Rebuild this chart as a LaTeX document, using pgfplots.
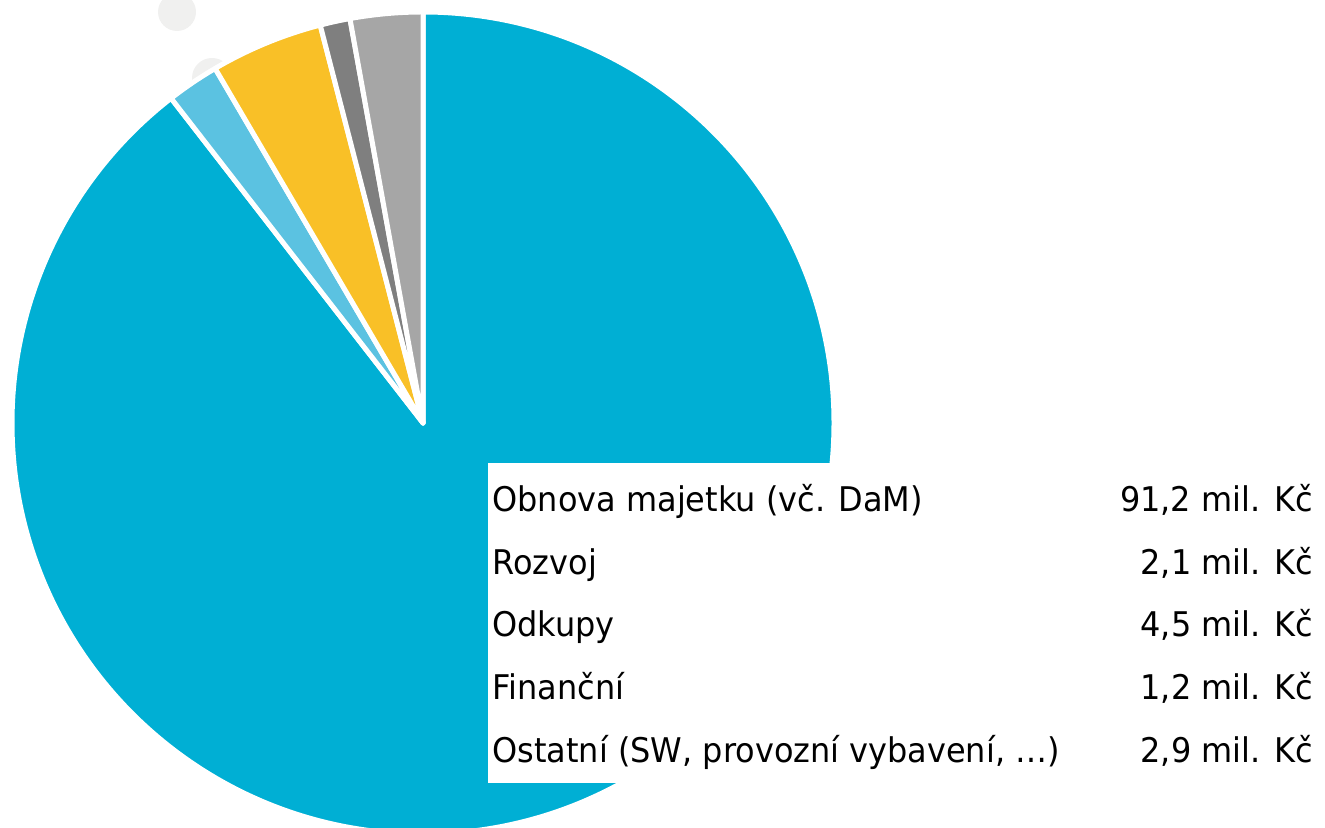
\documentclass[border=0pt]{standalone}
\usepackage{fontspec}
\setmainfont[FakeStretch=0.94]{DejaVu Sans}
\usepackage{pgfplots}
\usepackage{pgfplotstable}
\pgfplotsset{compat=1.18}

\definecolor{cObnova}{HTML}{00AFD4}
\definecolor{cRozvoj}{HTML}{5BC2E1}
\definecolor{cOdkupy}{HTML}{F9C027}
\definecolor{cFin}{HTML}{7F7F7F}
\definecolor{cOst}{HTML}{A6A6A6}
\definecolor{cDeco}{HTML}{F0F0EF}

% values in mil. Kc
\pgfplotstableread{
value
91.2
2.1
4.5
1.2
2.9
}\piedata

\pgfplotstablegetelem{0}{value}\of\piedata \let\vA\pgfplotsretval
\pgfplotstablegetelem{1}{value}\of\piedata \let\vB\pgfplotsretval
\pgfplotstablegetelem{2}{value}\of\piedata \let\vC\pgfplotsretval
\pgfplotstablegetelem{3}{value}\of\piedata \let\vD\pgfplotsretval
\pgfplotstablegetelem{4}{value}\of\piedata \let\vE\pgfplotsretval
\pgfmathsetmacro\tot{\vA+\vB+\vC+\vD+\vE}
% cumulative angles, clockwise from 12 o'clock
\pgfmathsetmacro\aA{90}
\pgfmathsetmacro\aB{\aA-\vA/\tot*360}
\pgfmathsetmacro\aC{\aB-\vB/\tot*360}
\pgfmathsetmacro\aD{\aC-\vC/\tot*360}
\pgfmathsetmacro\aE{\aD-\vD/\tot*360}
\pgfmathsetmacro\aF{\aE-\vE/\tot*360}

\newcommand\slice[3]{%
  \fill[#1, draw=white, line width=2.5pt, line join=round]
    (axis cs:423,405) -- ++(#2:205.5pt) arc[start angle=#2, end angle=#3, radius=205.5pt] -- cycle;}

\begin{document}
\begin{tikzpicture}
\begin{axis}[
  x=0.5pt, y=0.5pt,
  xmin=0, xmax=1325, ymin=0, ymax=828,
  hide axis,
  clip=true,
]
% faint decoration behind the pie
\fill[cDeco] (axis cs:177,816) circle[radius=9.5pt];
\fill[cDeco] (axis cs:212,750) circle[radius=10pt];

\slice{cObnova}{\aA}{\aB}
\slice{cRozvoj}{\aB}{\aC}
\slice{cOdkupy}{\aC}{\aD}
\slice{cFin}{\aD}{\aE}
\slice{cOst}{\aE}{\aF}

% legend box
\fill[white] (axis cs:488,45) rectangle (axis cs:1330,365);
\begin{scope}[every node/.style={font=\fontsize{17}{20}\selectfont, inner sep=0pt}]
\node[anchor=base west] at (axis cs:492,316) {Obnova majetku (vč. DaM)};
\node[anchor=base west] at (axis cs:492,253) {Rozvoj};
\node[anchor=base west] at (axis cs:492,191) {Odkupy};
\node[anchor=base west] at (axis cs:492,128) {Finanční};
\node[anchor=base west] at (axis cs:492,65) {Ostatní (SW, provozní vybavení, …)};
\node[anchor=base east] at (axis cs:1313,316) {91,2 mil. Kč};
\node[anchor=base east] at (axis cs:1313,253) {2,1 mil. Kč};
\node[anchor=base east] at (axis cs:1313,191) {4,5 mil. Kč};
\node[anchor=base east] at (axis cs:1313,128) {1,2 mil. Kč};
\node[anchor=base east] at (axis cs:1313,65) {2,9 mil. Kč};
\end{scope}
\end{axis}
\pgfresetboundingbox
\useasboundingbox (current axis.south west) rectangle (current axis.north east);
\end{tikzpicture}
\end{document}
